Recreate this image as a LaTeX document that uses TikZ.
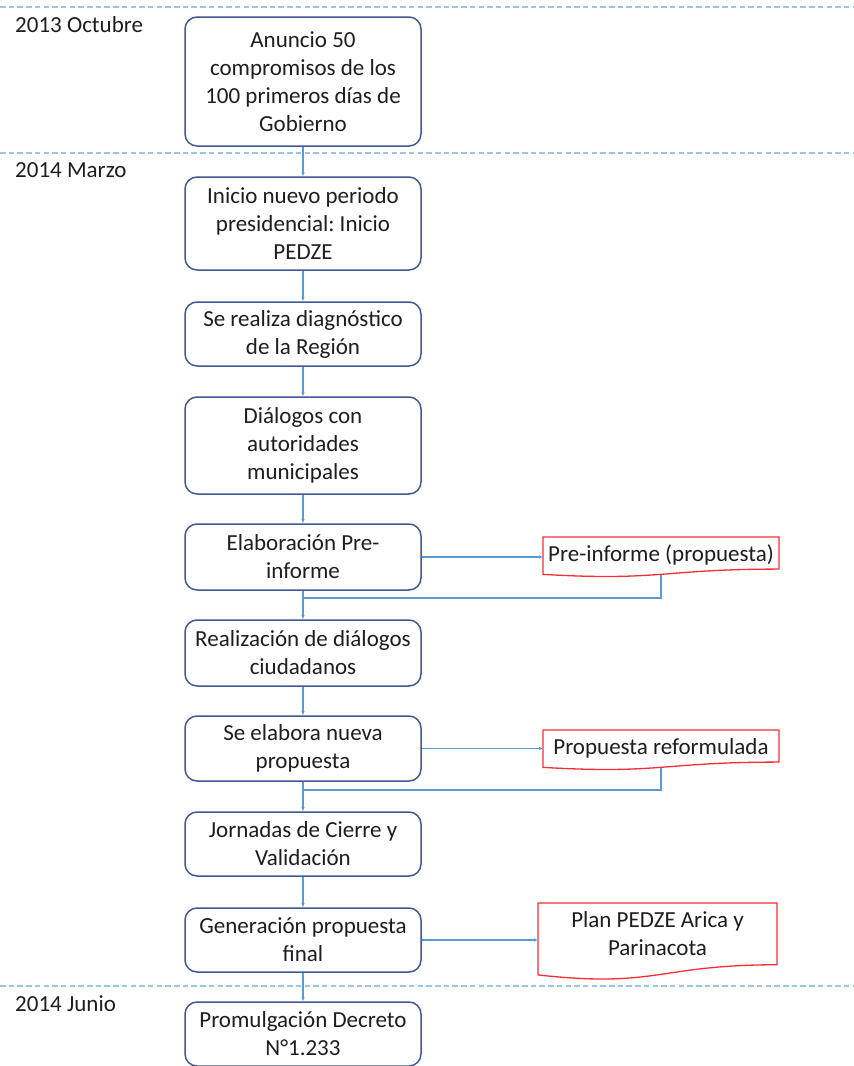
\documentclass[tikz,border=0pt]{standalone}
\usepackage{fontspec}
\setmainfont{Carlito}
\frenchspacing
\usetikzlibrary{arrows.meta,calc}

\definecolor{boxline}{RGB}{66,88,148}
\definecolor{connblue}{RGB}{91,155,213}
\definecolor{sepblue}{RGB}{157,195,230}
\definecolor{docred}{RGB}{250,45,55}
\definecolor{inktext}{RGB}{30,30,30}

\tikzset{
  stepbox/.style={draw=boxline, line width=1.5pt, rounded corners=12pt, fill=white,
    minimum width=236pt, inner sep=0pt, align=center, text=inktext,
    font=\fontsize{23}{28}\selectfont},
  conn/.style={draw=connblue, line width=1.2pt},
  arr/.style={conn, -{Latex[length=4pt,width=3.6pt]}},
  separator/.style={draw=sepblue, line width=1.5pt, dash pattern=on 5.5pt off 3.2pt},
  periodlabel/.style={anchor=west, inner sep=0pt, text=inktext, font=\fontsize{23}{28}\selectfont},
  docanchor/.style={inner sep=0pt, outer sep=0pt},
  docline/.style={draw=docred, line width=1.3pt, fill=white},
  doctext/.style={inner sep=0pt, align=center, text=inktext, font=\fontsize{23}{28}\selectfont}
}

% invisible anchor node of a document shape: name, left, top, width, height
\newcommand\DocAnchor[5]{%
  \node[docanchor, minimum width=#4pt, minimum height=#5pt] (#1) at (#2+0.5*#4, #3+0.5*#5) {};}
% outline with the wavy lower edge: left, top, width, height
\newcommand\DocOutline[4]{%
  \path[docline] (#1,#2) -- (#1+#3,#2) -- (#1+#3,#2+0.802*#4)
    .. controls (#1+0.5*#3,#2+0.802*#4) and (#1+0.5*#3,#2+1.107*#4) .. (#1,#2+0.934*#4) -- cycle;}

\begin{document}
\begin{tikzpicture}[x=1pt,y=-1pt]
\useasboundingbox (0,0) rectangle (854,1066);

% period separators
\draw[separator] (0,7) -- (854,7);
\draw[separator] (0,153) -- (854,153);
\draw[separator] (0,986) -- (854,986);

% period labels
\node[periodlabel] (p1) at (15,25) {2013 Octubre};
\node[periodlabel] (p2) at (15,170) {2014 Marzo};
\node[periodlabel] (p3) at (15,1004) {2014 Junio};

% process steps
\node[stepbox, minimum height=129pt] (b1) at (303,81.5) {Anuncio 50\\compromisos de los\\100 primeros días de\\Gobierno};
\node[stepbox, minimum height=93pt] (b2) at (303,223.5) {Inicio nuevo periodo\\presidencial: Inicio\\PEDZE};
\node[stepbox, minimum height=64pt] (b3) at (303,334) {Se realiza diagnóstico\\de la Región};
\node[stepbox, minimum height=97pt] (b4) at (303,445.5) {Diálogos con\\autoridades\\municipales};
\node[stepbox, minimum height=66pt] (b5) at (303,557) {Elaboración Pre-\\informe};
\node[stepbox, minimum height=66pt] (b6) at (303,653) {Realización de diálogos\\ciudadanos};
\node[stepbox, minimum height=65pt] (b7) at (303,748.5) {Se elabora nueva\\propuesta};
\node[stepbox, minimum height=64pt] (b8) at (303,844) {Jornadas de Cierre y\\Validación};
\node[stepbox, minimum height=64pt] (b9) at (303,940) {Generación propuesta\\final};
\node[stepbox, minimum height=64pt] (b10) at (303,1034) {Promulgación Decreto\\N°1.233};

% document anchors
\DocAnchor{d1}{543}{537}{236}{40}
\DocAnchor{d2}{543}{730}{236}{40}
\DocAnchor{d3}{538}{903}{239}{77}

% join points of the feedback lines
\coordinate (j1) at (b5.south |- 0,598);
\coordinate (j2) at (b7.south |- 0,790);

% feedback lines from the documents back into the main flow
\draw[conn] (d1.center) |- (j1);
\draw[conn] (d2.center) |- (j2);

% document outlines and texts
\DocOutline{543}{537}{236}{40}
\DocOutline{543}{730}{236}{40}
\DocOutline{538}{903}{239}{77}
\node[doctext] (t1) at (661,555) {Pre-informe (propuesta)};
\node[doctext] (t2) at (661,748) {Propuesta reformulada};
\node[doctext] (t3) at (657.5,934) {Plan PEDZE Arica y\\Parinacota};

% main flow
\draw[arr] (b1) -- (b2);
\draw[arr] (b2) -- (b3);
\draw[arr] (b3) -- (b4);
\draw[arr] (b4) -- (b5);
\draw[arr] (b5) -- (b6);
\draw[arr] (b6) -- (b7);
\draw[arr] (b7) -- (b8);
\draw[arr] (b8) -- (b9);
\draw[arr] (b9) -- (b10);

% outputs
\draw[arr] (b5.east) -- (b5.east -| d1.west);
\draw[arr] (b7.east) -- (b7.east -| d2.west);
\draw[arr] (b9.east) -- (b9.east -| d3.west);
\end{tikzpicture}
\end{document}
